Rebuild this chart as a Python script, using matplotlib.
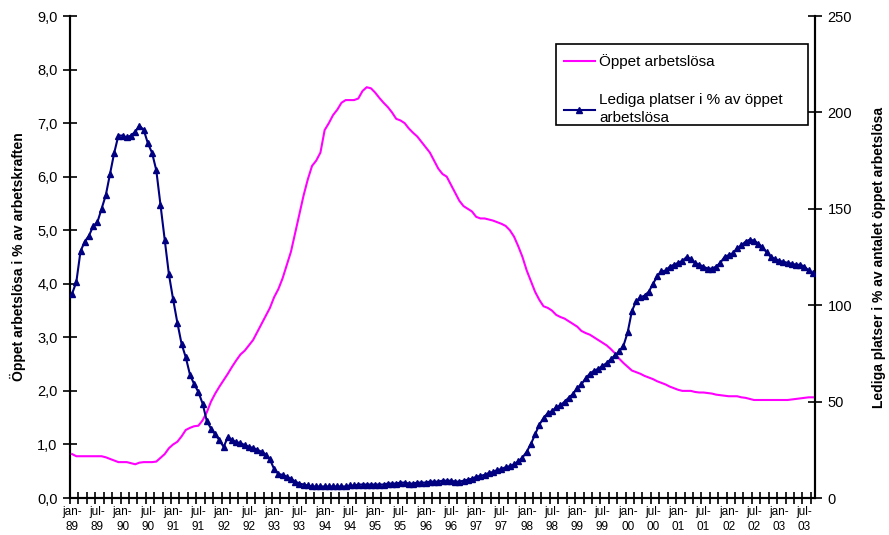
import matplotlib
matplotlib.use("Agg")
import matplotlib.pyplot as plt
import numpy as np
from matplotlib.lines import Line2D
from matplotlib.patches import Rectangle

plt.rcParams["font.family"] = ["Liberation Sans", "DejaVu Sans"]

MAGENTA = "#FF00FF"
NAVY = "#000080"

# Öppet arbetslösa, % av arbetskraften (monthly, jan-89 .. sep-03)
open_unemp = (
    [0.82, 0.78, 0.78, 0.78, 0.78, 0.78, 0.78, 0.78, 0.76, 0.73, 0.70, 0.67]    # 1989
    + [0.67, 0.67, 0.65, 0.63, 0.66, 0.67, 0.67, 0.67, 0.68, 0.75, 0.82, 0.93]  # 1990
    + [1.00, 1.05, 1.15, 1.27, 1.31, 1.34, 1.35, 1.45, 1.60, 1.80, 1.95, 2.08]  # 1991
    + [2.20, 2.32, 2.45, 2.57, 2.68, 2.75, 2.85, 2.95, 3.10, 3.25, 3.40, 3.55]  # 1992
    + [3.75, 3.90, 4.10, 4.35, 4.60, 4.95, 5.30, 5.65, 5.95, 6.20, 6.30, 6.45]  # 1993
    + [6.87, 7.00, 7.15, 7.25, 7.38, 7.43, 7.43, 7.43, 7.46, 7.60, 7.67, 7.65]  # 1994
    + [7.57, 7.47, 7.38, 7.30, 7.20, 7.08, 7.05, 7.00, 6.90, 6.82, 6.75, 6.65]  # 1995
    + [6.55, 6.45, 6.30, 6.15, 6.05, 6.00, 5.85, 5.70, 5.55, 5.45, 5.40, 5.35]  # 1996
    + [5.25, 5.22, 5.22, 5.20, 5.18, 5.15, 5.12, 5.08, 5.00, 4.88, 4.70, 4.50]  # 1997
    + [4.25, 4.05, 3.85, 3.70, 3.58, 3.55, 3.50, 3.42, 3.38, 3.35, 3.30, 3.25]  # 1998
    + [3.20, 3.12, 3.08, 3.05, 3.00, 2.95, 2.90, 2.85, 2.78, 2.70, 2.60, 2.52]  # 1999
    + [2.45, 2.38, 2.35, 2.32, 2.28, 2.25, 2.22, 2.18, 2.15, 2.12, 2.08, 2.05]  # 2000
    + [2.02, 2.00, 2.00, 2.00, 1.98, 1.97, 1.97, 1.96, 1.95, 1.93, 1.92, 1.91]  # 2001
    + [1.90, 1.90, 1.90, 1.88, 1.87, 1.85, 1.83, 1.83, 1.83, 1.83, 1.83, 1.83]  # 2002
    + [1.83, 1.83, 1.83, 1.84, 1.85, 1.86, 1.87, 1.88, 1.88]                    # 2003
)

# Lediga platser i % av antalet öppet arbetslösa
vacancies = (
    [106, 112, 128, 133, 136, 141, 143, 150, 157, 168, 179, 188]            # 1989
    + [188, 187, 188, 190, 193, 191, 184, 179, 170, 152, 134, 116]          # 1990
    + [103, 91, 80, 73, 64, 59, 55, 49, 40, 36, 33, 30]                     # 1991
    + [26.5, 31.6, 30, 29, 28.5, 27.5, 26.5, 26, 25, 24, 22.5, 20]          # 1992
    + [15, 12.5, 12, 11, 10, 8.5, 7.5, 7, 6.5, 6, 6, 6]                     # 1993
    + [6, 6, 6, 6, 6, 6, 6.5, 6.5, 7, 7, 7, 7]                              # 1994
    + [7, 7, 7, 7.5, 7.5, 7.5, 8, 8, 7.5, 7.5, 8, 8]                        # 1995
    + [8, 8.5, 8.5, 8.5, 9, 9, 9, 8.5, 8.5, 9, 9.5, 10]                     # 1996
    + [11, 11.5, 12, 13, 13.5, 14.5, 15, 16, 16.5, 17.5, 19, 21]            # 1997
    + [24, 28, 33, 38, 41.5, 44, 45, 47, 48, 50, 52, 54]                    # 1998
    + [57, 59, 62, 64.5, 66, 67, 68.5, 70, 72, 74, 76, 79]                  # 1999
    + [86, 97, 102, 104, 105, 107, 111, 115, 117.5, 118, 120, 121]          # 2000
    + [122, 123, 125, 124, 122, 121, 120, 119, 119, 120, 122, 125]          # 2001
    + [126, 127, 129.5, 131, 133, 134, 133.5, 132, 130, 127.5, 125, 124]    # 2002
    + [123, 122.5, 122, 121.5, 121, 121, 120, 118, 116.5]                   # 2003
)

years = [89, 90, 91, 92, 93, 94, 95, 96, 97, 98, 99, 0, 1, 2, 3]
tick_labels = []
for yy in years:
    tick_labels += [f"jan-\n{yy:02d}", f"jul-\n{yy:02d}"]

n = len(open_unemp)
x = np.arange(n)

W, H = 889, 535
fig = plt.figure(figsize=(W/100, H/100), dpi=100)
ax = fig.add_axes([70/W, 37/H, 745/W, 482/H])
ax2 = ax.twinx()

ax.plot(x, open_unemp, color=MAGENTA, lw=1.5, zorder=3)
ax2.plot(x, vacancies, color=NAVY, lw=1.5, marker="^", ms=4.5, zorder=4)

ax.set_xlim(-0.5, n - 0.5)
ax.set_ylim(0, 9)
ax2.set_ylim(0, 250)

# category axis: labels every 6 months, tick marks every 2 months
ax.set_xticks(np.arange(0, 6*len(tick_labels), 6))
ax.set_xticklabels(tick_labels, fontsize=8.5, linespacing=1.3)
ax.tick_params(axis="x", which="major", length=0, pad=6)
ax.set_xticks(np.arange(-0.5, n, 2), minor=True)
ax.tick_params(axis="x", which="minor", direction="inout", length=9, width=1.2)

ax.set_yticks(np.arange(0, 10, 1))
ax.set_yticklabels([f"{v:.1f}".replace(".", ",") for v in range(10)], fontsize=10.5)
ax.tick_params(axis="y", direction="inout", length=10, width=1.2, pad=4)
ax2.set_yticks(np.arange(0, 251, 50))
ax2.set_yticklabels([str(v) for v in range(0, 251, 50)], fontsize=10.5)
ax2.tick_params(axis="y", direction="inout", length=10, width=1.2, pad=4)

for a in (ax, ax2):
    for s in ("left", "right", "bottom"):
        a.spines[s].set_linewidth(1.5)
        a.spines[s].set_color("black")
    a.spines["top"].set_visible(False)

ax.set_ylabel("Öppet arbetslösa i % av arbetskraften", fontsize=10,
              fontweight="bold", labelpad=8)
ax2.set_ylabel("Lediga platser i % av antalet öppet arbetslösa", fontsize=10,
               fontweight="bold", labelpad=14)

# legend: Excel-style box, drawn with its own frame
fig.add_artist(Rectangle((556/W, 1 - 125/H), 252/W, 81/H, transform=fig.transFigure,
                         fc="white", ec="black", lw=1.2, zorder=10))
handles = [Line2D([], [], color=MAGENTA, lw=1.5),
           Line2D([], [], color=NAVY, lw=1.5, marker="^", ms=4.5)]
labels = ["Öppet arbetslösa", "Lediga platser i % av öppet\narbetslösa"]
leg = fig.legend(handles, labels, loc="upper left",
                 bbox_to_anchor=(564/W, 1 - 54/H), bbox_transform=fig.transFigure,
                 fontsize=11, frameon=False, labelspacing=1.6, handlelength=2.0,
                 handletextpad=0.3, borderpad=0, borderaxespad=0)
leg.set_zorder(11)
for t in leg.get_texts():
    t.set_linespacing(1.35)

fig.savefig("out.png", dpi=100, facecolor="white")
